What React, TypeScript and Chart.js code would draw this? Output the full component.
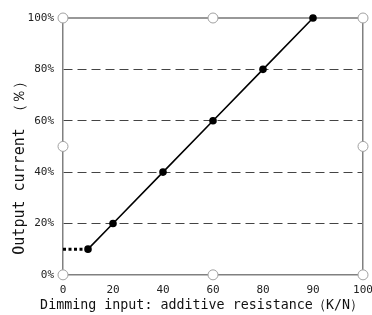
import React, { useEffect, useRef } from "react";
import { Chart, registerables } from "chart.js";

Chart.register(...registerables);

// x tick labels (evenly spaced positions on the axis)
const xLabels = ["0", "20", "40", "60", "80", "90", "100"];
// main curve: x given as position index along the evenly spaced axis
const curveX = [0.5, 1, 2, 3, 4, 5];
const curveY = [10, 20, 40, 60, 80, 100];
// dotted lead-in segment
const leadX = [0, 0.5];
const leadY = [10, 10];
// top boundary at 100%
const topX = [0, 6];
const topY = [100, 100];
// open handle circles
const handleX = [0, 3, 6, 0, 6, 0, 3, 6];
const handleY = [100, 100, 100, 50, 50, 0, 0, 0];
const yTicks = [0, 20, 40, 60, 80, 100];

const xTitle = "     Dimming input: additive resistance（K/N）";
const yTitle = "Output current （％）    ";

const titleFont = "monospace";

const pts = (xs: number[], ys: number[]) => xs.map((x, i) => ({ x, y: ys[i] }));

export default function App() {
  const ref = useRef<HTMLCanvasElement | null>(null);
  useEffect(() => {
    if (!ref.current) return;
    const chart = new Chart(ref.current, {
      type: "line",
      data: {
        datasets: [
          {
            data: pts(handleX, handleY),
            showLine: false,
            pointRadius: 5,
            pointBackgroundColor: "#ffffff",
            pointBorderColor: "#a0a0a0",
            pointBorderWidth: 1,
            clip: false as any,
            order: 0,
          },
          {
            data: pts(curveX, curveY),
            borderColor: "#000000",
            borderWidth: 1.6,
            pointRadius: 3,
            pointBackgroundColor: "#000000",
            pointBorderColor: "#000000",
            clip: false as any,
            order: 1,
          },
          {
            data: pts(leadX, leadY),
            borderColor: "#000000",
            borderWidth: 3,
            borderDash: [3, 2.5],
            pointRadius: 0,
            order: 2,
          },
          {
            data: pts(topX, topY),
            borderColor: "#333333",
            borderWidth: 1.2,
            pointRadius: 0,
            clip: false as any,
            order: 3,
          },
        ],
      },
      options: {
        animation: false,
        responsive: false,
        maintainAspectRatio: false,
        layout: { padding: { left: 0, right: 9, top: 18, bottom: 0 } },
        plugins: {
          legend: { display: false },
          tooltip: { enabled: false },
          title: {
            display: true,
            position: "bottom",
            align: "center",
            text: xTitle,
            color: "#111",
            font: { family: titleFont, size: 14.3, lineHeight: 1.2, weight: "normal" },
            padding: { top: 1, bottom: 1 },
          },
        },
        scales: {
          x: {
            type: "linear",
            min: 0,
            max: 6,
            afterBuildTicks: (s: any) => {
              s.ticks = xLabels.map((_, i) => ({ value: i }));
            },
            afterFit: (s: any) => {
              s.height = 21;
              s.paddingRight = 0;
              s.paddingLeft = 0;
            },
            ticks: {
              callback: (v: any) => xLabels[v] ?? "",
              color: "#222",
              font: { family: "DejaVu Sans Mono", size: 11 },
              padding: 1,
              maxRotation: 0,
              autoSkip: false,
            },
            grid: { display: false },
            border: { color: "#808080", width: 1.5 },
          },
          y: {
            min: 0,
            max: 100,
            afterBuildTicks: (s: any) => {
              s.ticks = yTicks.map((v) => ({ value: v }));
            },
            afterFit: (s: any) => {
              s.width = 63;
              s.paddingTop = 0;
              s.paddingBottom = 0;
            },
            ticks: {
              callback: (v: any) => v + "%",
              color: "#222",
              font: { family: "DejaVu Sans Mono", size: 11 },
              padding: 9,
            },
            grid: {
              color: (c: any) => (c.tick && c.tick.value > 0 && c.tick.value < 100 ? "#444" : "rgba(0,0,0,0)"),
              lineWidth: 1,
              drawTicks: false,
            },
            border: { color: "#808080", width: 1.5, dash: [9, 5] },
            title: {
              display: true,
              text: yTitle,
              color: "#111",
              font: { family: titleFont, size: 15, lineHeight: 1.2 },
              padding: { top: 11, bottom: 0 },
            },
          },
          y2: {
            position: "right",
            min: 0,
            max: 100,
            ticks: { display: false },
            grid: { display: false, drawTicks: false },
            border: { color: "#808080", width: 1.5 },
          },
        },
      },
    });
    return () => chart.destroy();
  }, []);
  return (
    <div style={{ position: "fixed", left: 0, top: 0, width: 372, height: 315, background: "#fff" }}>
      <canvas ref={ref} width={372} height={315} style={{ display: "block" }} />
    </div>
  );
}
